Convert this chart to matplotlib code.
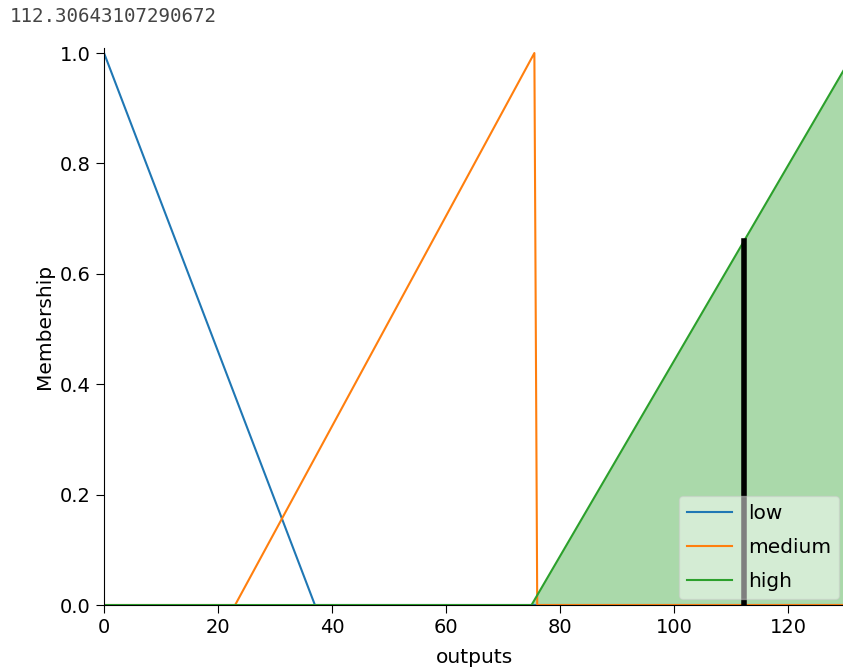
import numpy as np
import matplotlib.pyplot as plt

# output universe and term breakpoints
universe_max = 130
low_x = [0, 37, 130]
low_y = [1.0, 0.0, 0.0]
medium_x = [0, 23, 75.5, 76, 130]
medium_y = [0.0, 0.0, 1.0, 0.0, 0.0]
high_x = [0, 75, 130]
high_y = [0.0, 0.0, 0.973]

# defuzzified result and its membership
result = 112.30643107290672
result_mf = 0.66

fig = plt.figure(figsize=(8.43, 6.72), dpi=100)
ax = fig.add_axes([0.1234, 0.0997, 0.879, 0.8296])

ax.plot(low_x, low_y, color='tab:blue', lw=1.5, label='low')
ax.plot(medium_x, medium_y, color='tab:orange', lw=1.5, label='medium')
ax.plot(high_x, high_y, color='tab:green', lw=1.5, label='high')

# activated "high" term
ax.fill_between(high_x, 0, high_y, facecolor='tab:green', alpha=0.4)
ax.plot([result, result], [0, result_mf], color='k', lw=4)

ax.set_ylim(0, 1.01)
ax.set_xlim(0, universe_max)
ax.spines['top'].set_visible(False)
ax.spines['right'].set_visible(False)
ax.tick_params(labelsize=14, length=6)
ax.set_xlabel('outputs', fontsize=14.5, labelpad=8)
ax.set_ylabel('Membership', fontsize=14.5)
ax.legend(loc='lower right', fontsize=14.5, framealpha=0.5, borderaxespad=0.3,
          handlelength=2.2, labelspacing=0.75)

fig.text(0.012, 0.975, f'{result}', family='DejaVu Sans Mono', fontsize=13.8,
         color='#444444', va='center', ha='left')

fig.savefig('out.png', dpi=100)
